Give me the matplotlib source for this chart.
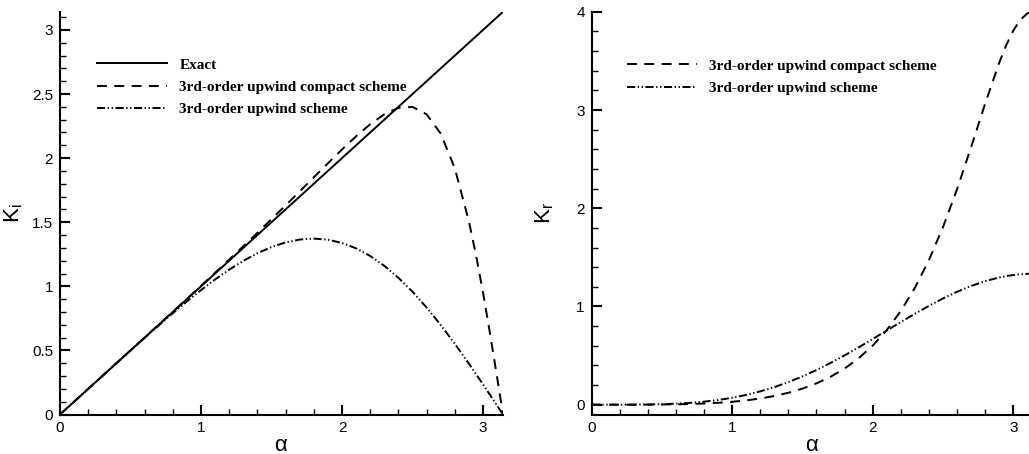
import numpy as np
import matplotlib
matplotlib.use('Agg')
import matplotlib.pyplot as plt
from matplotlib.ticker import MultipleLocator

# wavenumber alpha and values
alpha = [0.0, 0.1, 0.2, 0.3, 0.4, 0.5, 0.6, 0.7, 0.8, 0.9, 1.0,
         1.1, 1.2, 1.3, 1.4, 1.5, 1.6, 1.7, 1.8, 1.9, 2.0,
         2.1, 2.2, 2.3, 2.4, 2.5, 2.6, 2.7, 2.8, 2.9, 2.95,
         3.0, 3.05, 3.1, 3.12, 3.1416]

# left panel: Ki
exact_x = [0.0, 3.1416]
exact_y = [0.0, 3.1416]
ki_compact = [0.0, 0.1000, 0.2000, 0.3000, 0.4000, 0.5001, 0.6003, 0.7006, 0.8012, 0.9021, 1.0035,
              1.1056, 1.2085, 1.3124, 1.4175, 1.5239, 1.6316, 1.7405, 1.8502, 1.9598, 2.0675,
              2.1707, 2.2646, 2.3422, 2.3925, 2.3996, 2.3418, 2.1917, 1.9204, 1.5067, 1.2453,
              0.9512, 0.6300, 0.2901, 0.1510, 0.0]
ki_upwind = [0.0, 0.1000, 0.2000, 0.2999, 0.3997, 0.4990, 0.5975, 0.6947, 0.7899, 0.8821, 0.9704,
             1.0535, 1.1301, 1.1988, 1.2581, 1.3065, 1.3425, 1.3648, 1.3722, 1.3637, 1.3385,
             1.2962, 1.2366, 1.1599, 1.0666, 0.9578, 0.8346, 0.6986, 0.5519, 0.3964, 0.3162,
             0.2347, 0.1523, 0.0693, 0.0360, 0.0]

# right panel: Kr
kr_compact = [0.0, 0.0000, 0.0000, 0.0002, 0.0007, 0.0018, 0.0037, 0.0069, 0.0118, 0.0191, 0.0295,
              0.0438, 0.0630, 0.0884, 0.1213, 0.1635, 0.2169, 0.2841, 0.3681, 0.4724, 0.6013,
              0.7598, 0.9536, 1.1891, 1.4721, 1.8069, 2.1928, 2.6201, 3.0641, 3.4804, 3.6593,
              3.8076, 3.9176, 3.9829, 3.9954, 4.0]
kr_upwind = [0.0, 0.0000, 0.0001, 0.0007, 0.0021, 0.0050, 0.0102, 0.0184, 0.0307, 0.0477, 0.0704,
             0.0995, 0.1355, 0.1789, 0.2297, 0.2878, 0.3531, 0.4248, 0.5020, 0.5837, 0.6685,
             0.7549, 0.8411, 0.9255, 1.0062, 1.0814, 1.1493, 1.2085, 1.2574, 1.2949, 1.3090,
             1.3200, 1.3278, 1.3322, 1.3330, 1.3333]

lab_exact = 'Exact'
lab_compact = '3rd-order upwind compact scheme'
lab_upwind = '3rd-order upwind scheme'

plt.rcParams['font.family'] = ['Liberation Sans', 'DejaVu Sans']
plt.rcParams['mathtext.fontset'] = 'custom'
plt.rcParams['mathtext.rm'] = 'Liberation Sans'

lw = 1.4
dash = (0, (5.1, 3.8))
dashdotdot = (0, (4.2, 1.3, 0.7, 1.3, 0.7, 1.3))

fig = plt.figure(figsize=(10.29, 4.54), dpi=100)
ax1 = fig.add_axes([0.0583, 0.087, 0.4305, 0.887])
ax2 = fig.add_axes([0.575, 0.087, 0.429, 0.887])

ax1.plot(exact_x, exact_y, color='k', lw=lw, label=lab_exact)
ax1.plot(alpha, ki_compact, color='k', lw=lw, ls=dash, label=lab_compact)
ax1.plot(alpha, ki_upwind, color='k', lw=lw, ls=dashdotdot, label=lab_upwind)
ax1.set_xlim(0, np.pi)
ax1.set_ylim(0, np.pi)
ax1.yaxis.set_minor_locator(MultipleLocator(0.1))
ax1.set_yticks([0, 0.5, 1, 1.5, 2, 2.5, 3])
ax1.set_yticklabels(['0', '0.5', '1', '1.5', '2', '2.5', '3'])

ax2.plot(alpha, kr_compact, color='k', lw=lw, ls=dash, label=lab_compact)
ax2.plot(alpha, kr_upwind, color='k', lw=lw, ls=dashdotdot, label=lab_upwind)
ax2.set_xlim(0, np.pi)
ax2.set_ylim(-0.1, 4)
ax2.yaxis.set_major_locator(MultipleLocator(1))
ax2.yaxis.set_minor_locator(MultipleLocator(0.2))

for ax in (ax1, ax2):
    ax.xaxis.set_major_locator(MultipleLocator(1))
    ax.xaxis.set_minor_locator(MultipleLocator(0.2))
    ax.spines['top'].set_visible(False)
    ax.spines['right'].set_visible(False)
    ax.spines['left'].set_linewidth(1.5)
    ax.spines['bottom'].set_linewidth(1.5)
    ax.tick_params(which='major', direction='in', length=7, width=1.5,
                   labelsize=11, pad=5)
    ax.tick_params(which='minor', direction='in', length=4.5, width=1.0)
    ax.set_xlabel(r'$\mathregular{\alpha}$', fontsize=16)
    ax.xaxis.set_label_coords(0.5, -0.05)
    ax.legend(loc='upper left', frameon=False, handlelength=4.6, handletextpad=0.8,
              labelspacing=0.56, borderpad=0, borderaxespad=0,
              prop={'family': 'Liberation Serif', 'weight': 'bold', 'size': 11})

ax1.get_legend().set_bbox_to_anchor((0.0835, 0.885), transform=ax1.transAxes)
ax2.get_legend().set_bbox_to_anchor((0.080, 0.883), transform=ax2.transAxes)

ax1.set_ylabel(r'$\mathregular{K_i}$', fontsize=16)
ax1.yaxis.set_label_coords(-0.079, 0.5)
ax2.set_ylabel(r'$\mathregular{K_r}$', fontsize=16)
ax2.yaxis.set_label_coords(-0.081, 0.5)

fig.savefig('out.png', dpi=100)
